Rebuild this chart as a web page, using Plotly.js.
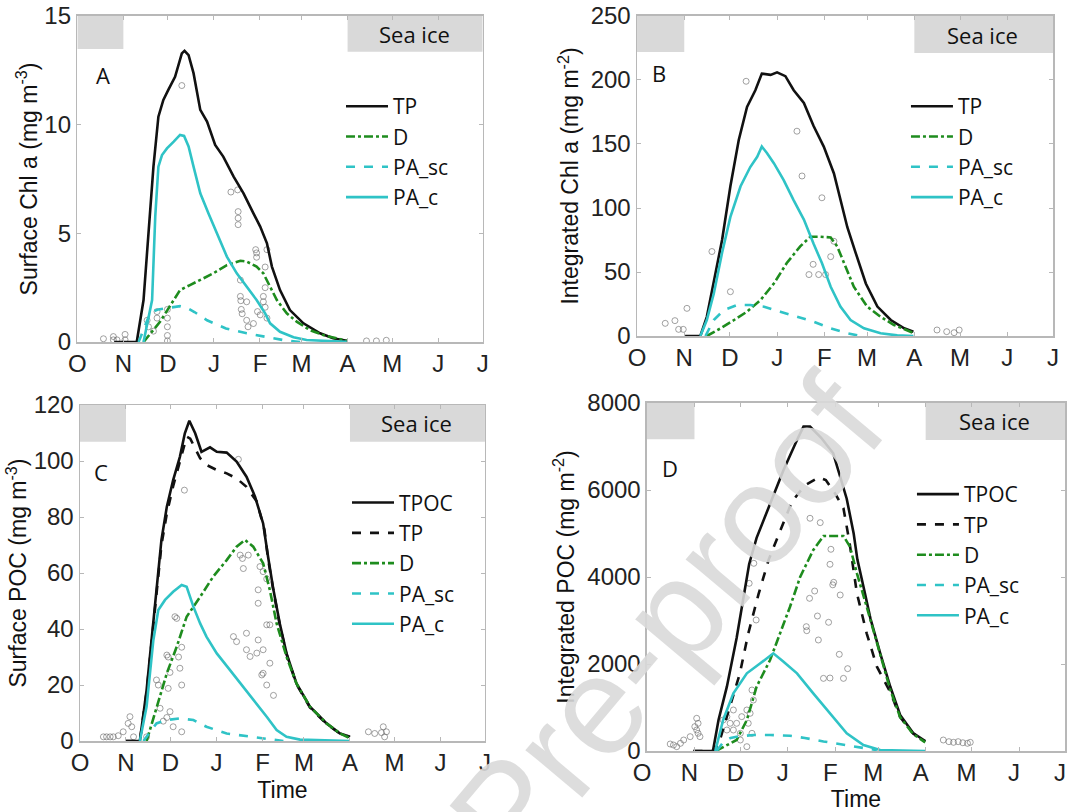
<!DOCTYPE html>
<html>
<head>
<meta charset="utf-8">
<script src="https://cdn.plot.ly/plotly-3.0.1.min.js"></script>
<style>
  body { margin: 0; background: #fff; }
  #chart { width: 1071px; height: 812px; }
</style>
</head>
<body>
<div id="chart"></div>
<script>
// x is in "month widths" from 1 Oct (axis 0..9); month starts are placed by day count
var monthLabels = ['O', 'N', 'D', 'J', 'F', 'M', 'A', 'M', 'J', 'J'];
var monthStartDays = [0, 31, 61, 92, 123, 151, 182, 212, 243, 273];

// ---- A: surface Chl a (mg m-3)
var aTP_x = [0.82,1.32,1.47,1.58,1.69,1.80,1.91,2.02,2.17,2.32,2.38,2.47,2.58,2.73,2.88,3.06,3.24,3.47,3.69,3.91,4.06,4.21,4.32,4.50,4.72,5.02,5.39,5.68,5.98];
var aTP_y = [0,0.01,1.93,5.0,8.07,10.37,11.14,11.6,12.2,13.28,13.4,13.2,12.37,10.68,10.14,9.07,8.53,7.61,6.84,5.92,5.31,4.54,3.47,2.39,1.47,0.86,0.40,0.17,0.06];
var aD_x = [1.47,1.62,1.84,2.0,2.28,2.5,2.73,3.02,3.32,3.62,3.76,3.98,4.13,4.28,4.43,4.65,4.87,5.16,5.46,5.76,5.98];
var aD_y = [0,0.40,0.94,1.47,2.39,2.62,2.85,3.16,3.54,3.74,3.7,3.47,3.16,2.54,1.93,1.32,0.94,0.55,0.32,0.17,0.06];
var aPAsc_x = [1.36,1.5,1.62,1.8,2.0,2.28,2.45,2.6,2.88,3.3,3.76,4.2,4.6,4.95];
var aPAsc_y = [0,0.7,1.35,1.5,1.55,1.65,1.55,1.38,1.0,0.62,0.4,0.22,0.08,0];
var aPAc_x = [1.47,1.66,1.73,1.80,1.88,1.99,2.14,2.28,2.37,2.47,2.58,2.73,2.91,3.10,3.32,3.54,3.76,3.98,4.17,4.28,4.50,4.80,5.09,5.68,5.98];
var aPAc_y = [0,1.93,5.77,8.07,8.6,8.91,9.22,9.53,9.48,9.0,8.07,6.84,5.92,5.0,3.93,3.16,2.54,1.93,1.32,0.86,0.47,0.22,0.09,0.02,0.01];
var aObs_x = [0.58,0.80,0.80,0.88,1.06,1.06,1.55,1.58,1.69,1.77,1.77,2.0,2.0,2.0,2.0,2.0,2.32,3.41,3.56,3.57,3.57,3.57,3.96,3.98,3.98,4.21,4.17,3.62,3.62,3.63,3.76,3.64,3.66,3.76,3.79,3.91,4.0,4.13,4.13,4.17,4.21,4.17,4.06,6.42,6.64,6.86];
var aObs_y = [0.15,0.25,0.1,0.1,0.35,0.1,1.0,0.7,0.5,1.4,1.1,1.5,1.1,0.7,0.3,0.05,11.8,6.9,7.0,6.0,5.7,5.4,4.25,4.1,3.9,4.25,3.45,2.85,2.1,1.9,1.85,1.5,1.3,1.0,0.7,0.85,1.4,1.85,2.1,1.6,1.1,2.5,1.25,0.05,0.05,0.08];

// ---- B: integrated Chl a (mg m-2)
var bTP_x = [1.04,1.37,1.51,1.66,1.84,2.02,2.2,2.38,2.56,2.70,2.89,3.03,3.21,3.39,3.61,3.82,4.04,4.26,4.40,4.55,4.73,4.95,5.2,5.49,5.78,5.98];
var bTP_y = [0,0,15,41,75,117,153,179,192,205,204,206,203,192,182,164,148,127,106,85,65,41,23,12.5,6,3.4];
var bD_x = [1.51,1.81,2.1,2.38,2.67,2.96,3.24,3.53,3.75,3.96,4.19,4.33,4.48,4.69,4.98,5.27,5.56,5.85,6.0];
var bD_y = [0,6,12.5,19,28,41,57,70,77.6,77.6,77,70,57,38.5,23,15,8.6,4.7,2.1];
var bPAsc_x = [1.48,1.66,1.88,2.17,2.45,2.75,3.1,3.46,3.82,4.19,4.55,4.84];
var bPAsc_y = [0,12.5,20.3,24.2,24.2,22.9,19,15.1,11.2,6,2.1,0];
var bPAc_x = [1.37,1.51,1.66,1.84,2.02,2.24,2.45,2.60,2.70,2.81,2.96,3.17,3.39,3.61,3.82,4.0,4.19,4.40,4.62,4.91,5.27,5.63,5.98];
var bPAc_y = [0,12.5,33,65,93,117,132,140,148,143,135,122,106,91,72,57,38.5,23,12.5,6,2.1,0.5,0];
var bObs_x = [0.61,0.82,0.90,1.0,1.08,1.62,2.02,2.36,3.46,3.57,4.0,3.81,3.72,3.93,4.08,4.19,4.26,6.49,6.70,6.86,6.97];
var bObs_y = [9.9,12,5.2,5.2,21.6,66,34.6,199,160,125,108,56,48,48,48,62,74,4.7,3.4,2.6,4.7];

// ---- C: surface POC (mg m-3)
var cTPOC_x = [1.0,1.33,1.48,1.59,1.70,1.81,1.93,2.07,2.22,2.33,2.43,2.56,2.70,2.89,3.04,3.26,3.48,3.70,3.89,4.07,4.18,4.30,4.44,4.59,4.81,5.11,5.48,5.78,6.0];
var cTPOC_y = [0,0,18.2,36,53.9,71.8,83.7,93.2,101.5,109.9,114.4,109.9,103.3,104.9,103.3,103,99.8,94.4,87.3,77.7,65.8,53.9,42,31.3,20.6,12.3,6.3,2.7,1.5];
var cTP_x = [1.0,1.33,1.48,1.59,1.70,1.81,1.93,2.07,2.22,2.37,2.45,2.67,2.81,3.04,3.26,3.48,3.70,3.93,4.1,4.18,4.30,4.44,4.59,4.81,5.11,5.48,5.78,6.0];
var cTP_y = [0,0,17.5,35,52.5,70,81.3,91,99.8,108.7,108,101,98.6,96.8,95.6,93.8,90.8,85.5,75.4,65,53.5,41.5,31,20.3,12,6.1,2.6,1.4];
var cD_x = [1.48,1.70,1.93,2.15,2.37,2.67,2.96,3.26,3.48,3.67,3.85,4.07,4.22,4.37,4.59,4.81,5.11,5.48,5.78,6.0];
var cD_y = [0,12.3,24.2,33.7,44.4,51.5,58.7,64.6,69.4,71.8,69.4,63.5,53.9,42,30.1,20.6,12.3,6.3,2.7,1];
var cPAsc_x = [1.41,1.70,1.93,2.22,2.52,2.81,3.26,3.78,4.15,4.52];
var cPAsc_y = [0,6.3,7.5,8.1,7.5,5.1,2.7,1.5,0.8,0];
var cPAc_x = [1.33,1.48,1.63,1.74,1.89,2.07,2.26,2.37,2.52,2.67,2.81,3.04,3.33,3.63,3.93,4.15,4.37,4.59,4.89,6.0];
var cPAc_y = [0,12.3,36,46.8,50.4,53.3,55.7,55.1,48,42,37.3,31.3,25.4,19.4,13.5,8.7,3.9,1.5,0.5,0];
var cObs_x = [0.52,0.59,0.67,0.74,0.85,0.96,1.07,1.11,1.15,1.19,1.48,
  1.70,1.74,1.78,1.85,1.93,1.96,1.96,2.0,2.0,1.93,2.07,2.11,2.15,2.19,2.22,2.26,2.26,2.26,2.32,
  3.41,3.48,3.56,3.61,3.63,3.74,3.52,3.70,3.70,3.78,3.93,3.96,4.07,4.0,3.96,3.96,4.07,4.07,4.15,4.22,4.30,4.15,4.04,4.15,4.22,
  6.41,6.55,6.70,6.74,6.77,6.81];
var cObs_y = [1.5,1.5,1.5,1.5,1.9,3.3,6.3,8.7,5.1,1.5,1.5,
  21.8,20,11.7,7.1,30.7,30,18.8,24.5,10.5,8.4,5.1,44.4,43.8,30,26,3.3,20,33.5,89.6,
  37.3,35.5,66.4,65.2,61.6,66.4,100.6,38.5,32.6,30.2,31.4,36.1,60.5,62.3,54,49.2,32.6,24.2,20,27.8,16.3,41.5,23.6,57.9,41.5,
  3.3,2.7,3,5.1,1.5,3.3];

// ---- D: integrated POC (mg m-2)
var dTPOC_x = [1.0,1.42,1.54,1.72,1.93,2.05,2.20,2.36,2.65,2.94,3.23,3.37,3.51,3.75,4.01,4.16,4.30,4.45,4.53,4.66,4.81,5.02,5.24,5.45,5.73,5.99];
var dTPOC_y = [0,0,713,1479,2600,3400,4300,4900,5700,6460,7150,7456,7456,7200,6844,6300,5800,5000,4400,3780,3050,2250,1471,828,414,230];
var dTP_x = [1.0,1.45,1.57,1.79,2.0,2.18,2.40,2.62,2.87,3.12,3.40,3.70,3.85,4.05,4.23,4.36,4.52,4.73,4.95,5.24,5.45,5.73,5.99];
var dTP_y = [0,0,253,1019,1786,2700,3600,4400,5080,5730,6110,6290,6230,5920,5580,4800,3625,2706,1938,1350,780,400,220];
var dD_x = [1.48,1.70,1.93,2.15,2.36,2.65,2.87,3.08,3.30,3.58,3.80,4.23,4.37,4.52,4.73,4.95,5.24,5.45,5.73,5.99];
var dD_y = [0,120,253,713,1479,2092,2706,3317,4007,4621,4943,4943,4697,4085,3317,2500,1400,780,390,200];
var dPAsc_x = [1.50,1.64,1.80,2.0,2.3,2.65,3.08,3.4,3.8,4.1,4.5,4.95];
var dPAsc_y = [0,200,300,340,368,368,350,300,220,170,100,20];
var dPAc_x = [1.47,1.64,1.86,2.15,2.44,2.72,2.94,3.23,3.58,3.94,4.30,4.66,5.02,5.99];
var dPAc_y = [0,713,1326,1786,2016,2246,2054,1786,1326,867,407,138,23,0];
var dObs_x = [0.50,0.57,0.64,0.72,0.79,0.93,1.03,1.07,1.10,1.07,1.14,1.10,
  1.64,1.72,1.79,1.86,1.93,2.01,2.04,2.15,2.18,2.22,2.26,2.15,2.26,2.29,2.01,1.72,1.86,2.20,2.30,2.35,
  3.51,3.73,3.96,3.94,3.61,3.50,4.02,4.00,4.16,3.67,3.91,3.43,3.44,3.69,4.14,4.32,4.23,3.94,3.80,
  6.38,6.50,6.60,6.70,6.80,6.90,6.96];
var dObs_y = [161,138,100,177,253,330,560,483,637,752,330,407,
  713,790,637,943,637,253,790,943,637,867,407,100,1402,1172,407,483,483,3855,4315,3012,
  5350,5250,4637,4292,3678,3510,3878,3820,3586,3103,2959,2858,2766,2552,2223,1893,1670,1678,1670,
  253,215,200,215,190,177,200];

var tickPos = monthStartDays.map(function (d) { return d * 9 / 273; });

var black = '#111111', green = '#1e8c1e', cyan = '#2fc3c6';
var W = 2.6;

function obs(x, y, ax) {
  return {x: x, y: y, xaxis: 'x' + ax, yaxis: 'y' + ax, type: 'scatter', mode: 'markers',
    showlegend: false, hoverinfo: 'skip',
    marker: {symbol: 'circle-open', size: 6, color: 'rgba(100,100,100,0.6)', line: {width: 1}}};
}
function line(x, y, ax, name, color, dash, leg) {
  return {x: x, y: y, xaxis: 'x' + ax, yaxis: 'y' + ax, type: 'scatter', mode: 'lines',
    name: name, legend: leg, line: {color: color, width: W, dash: dash}};
}

var data = [
  obs(aObs_x, aObs_y, ''),
  line(aTP_x, aTP_y, '', 'TP', black, 'solid', 'legend'),
  line(aD_x, aD_y, '', 'D', green, 'dashdot', 'legend'),
  line(aPAsc_x, aPAsc_y, '', 'PA_sc', cyan, 'dash', 'legend'),
  line(aPAc_x, aPAc_y, '', 'PA_c', cyan, 'solid', 'legend'),

  obs(bObs_x, bObs_y, '2'),
  line(bTP_x, bTP_y, '2', 'TP', black, 'solid', 'legend2'),
  line(bD_x, bD_y, '2', 'D', green, 'dashdot', 'legend2'),
  line(bPAsc_x, bPAsc_y, '2', 'PA_sc', cyan, 'dash', 'legend2'),
  line(bPAc_x, bPAc_y, '2', 'PA_c', cyan, 'solid', 'legend2'),

  obs(cObs_x, cObs_y, '3'),
  line(cTPOC_x, cTPOC_y, '3', 'TPOC', black, 'solid', 'legend3'),
  line(cTP_x, cTP_y, '3', 'TP', black, 'dash', 'legend3'),
  line(cD_x, cD_y, '3', 'D', green, 'dashdot', 'legend3'),
  line(cPAsc_x, cPAsc_y, '3', 'PA_sc', cyan, 'dash', 'legend3'),
  line(cPAc_x, cPAc_y, '3', 'PA_c', cyan, 'solid', 'legend3'),

  obs(dObs_x, dObs_y, '4'),
  line(dTPOC_x, dTPOC_y, '4', 'TPOC', black, 'solid', 'legend4'),
  line(dTP_x, dTP_y, '4', 'TP', black, 'dash', 'legend4'),
  line(dD_x, dD_y, '4', 'D', green, 'dashdot', 'legend4'),
  line(dPAsc_x, dPAsc_y, '4', 'PA_sc', cyan, 'dash', 'legend4'),
  line(dPAc_x, dPAc_y, '4', 'PA_c', cyan, 'solid', 'legend4')
];

var tickFont = {family: 'Liberation Sans, Arial, sans-serif', size: 24, color: '#222'};
var yTitleFont = {family: 'Liberation Sans, Arial, sans-serif', size: 23, color: '#111'};
var xTitleFont = {family: 'Liberation Sans, Arial, sans-serif', size: 23, color: '#111'};
var legendFont = {family: 'Open Sans, sans-serif', size: 21, color: '#111'};
var letterFont = {family: 'Open Sans, sans-serif', size: 22, color: '#111'};

function xax(domain, anchor, withTitle, shift) {
  var a = {domain: domain, anchor: anchor, range: [0, 9], tickvals: tickPos, ticktext: monthLabels,
    showline: true, linecolor: '#b8b8b8', linewidth: 1.5, mirror: 'ticks', ticks: 'inside',
    ticklen: 4, tickcolor: '#b8b8b8', showgrid: false, zeroline: false, tickfont: tickFont,
    ticklabeloverflow: 'allow', ticklabelshift: shift || 0};
  if (withTitle) a.title = {text: 'Time', font: xTitleFont, standoff: 6};
  return a;
}
function yax(domain, anchor, range, dtick, title, standoff) {
  return {domain: domain, anchor: anchor, range: range, dtick: dtick, tick0: 0,
    showline: true, linecolor: '#b8b8b8', linewidth: 1.5, mirror: 'ticks', ticks: 'inside',
    ticklen: 4, tickcolor: '#b8b8b8', showgrid: false, zeroline: false, tickfont: tickFont,
    title: {text: title, font: yTitleFont, standoff: standoff}};
}
function legendAt(x, y) {
  return {x: x, y: y, xanchor: 'left', yanchor: 'top', bgcolor: 'rgba(0,0,0,0)',
    font: legendFont, itemwidth: 42, tracegroupgap: 0};
}

var shapes = [], annotations = [];
var iceBoxes = [['', 0.899, 0.89], ['2', 0.8875, 0.884], ['3', 0.891, 0.891], ['4', 0.896, 0.894]];
iceBoxes.forEach(function (b) {
  shapes.push({type: 'rect', xref: 'x' + b[0], yref: 'y' + b[0] + ' domain', x0: tickPos[0], x1: tickPos[1],
    y0: b[1], y1: 1, fillcolor: '#d9d9d9', line: {width: 0}, layer: 'below'});
  shapes.push({type: 'rect', xref: 'x' + b[0], yref: 'y' + b[0] + ' domain', x0: tickPos[6], x1: tickPos[9],
    y0: b[2], y1: 1, fillcolor: '#d9d9d9', line: {width: 0}, layer: 'below'});
  annotations.push({xref: 'x' + b[0], yref: 'y' + b[0] + ' domain', x: 7.48, y: (1 + b[2]) / 2,
    xanchor: 'center', yanchor: 'middle', text: 'Sea ice', showarrow: false,
    font: {family: 'Open Sans, sans-serif', size: 22, color: '#111'}});
});
var panelLetters = [['', 'A', 0.57, 0.819], ['2', 'B', 0.48, 0.822], ['3', 'C', 0.47, 0.80], ['4', 'D', 0.50, 0.813]];
panelLetters.forEach(function (p) {
  annotations.push({xref: 'x' + p[0], yref: 'y' + p[0] + ' domain', x: p[2], y: p[3], text: p[1],
    xanchor: 'center', yanchor: 'middle', showarrow: false, font: letterFont});
});
annotations.push({xref: 'paper', yref: 'paper', x: 0.6228, y: 0.234, xanchor: 'center', yanchor: 'middle',
  text: 'Pre-proof', showarrow: false, textangle: -50,
  font: {family: 'Liberation Sans, Arial, sans-serif', size: 140, color: 'rgba(217,217,217,0.9)'}});

var layout = {
  width: 1071, height: 812,
  margin: {l: 0, r: 0, t: 0, b: 0},
  paper_bgcolor: '#fff', plot_bgcolor: '#fff',
  xaxis: xax([0.0722, 0.4507], 'y', false),
  yaxis: yax([0.5788, 0.9803], 'x', [0, 15], 5, 'Surface Chl a (mg m<sup>-3</sup>)', 0),
  xaxis2: xax([0.5948, 0.9832], 'y2', false),
  yaxis2: yax([0.5862, 0.9803], 'x2', [0, 250], 50, 'Integrated Chl a (mg m<sup>-2</sup>)', 5),
  xaxis3: xax([0.0747, 0.4528], 'y3', true),
  yaxis3: yax([0.0874, 0.5012], 'x3', [0, 120], 20, 'Surface POC (mg m<sup>-3</sup>)', 0),
  xaxis4: xax([0.6041, 0.9944], 'y4', true, -5),
  yaxis4: yax([0.0751, 0.5037], 'x4', [0, 8000], 2000, 'Integrated POC (mg m<sup>-2</sup>)', 6),
  legend: legendAt(0.3184, 0.894),
  legend2: legendAt(0.8459, 0.894),
  legend3: legendAt(0.324, 0.4059),
  legend4: legendAt(0.8515, 0.4163),
  shapes: shapes,
  annotations: annotations
};

Plotly.newPlot('chart', data, layout, {displayModeBar: false, staticPlot: true});
</script>
</body>
</html>
